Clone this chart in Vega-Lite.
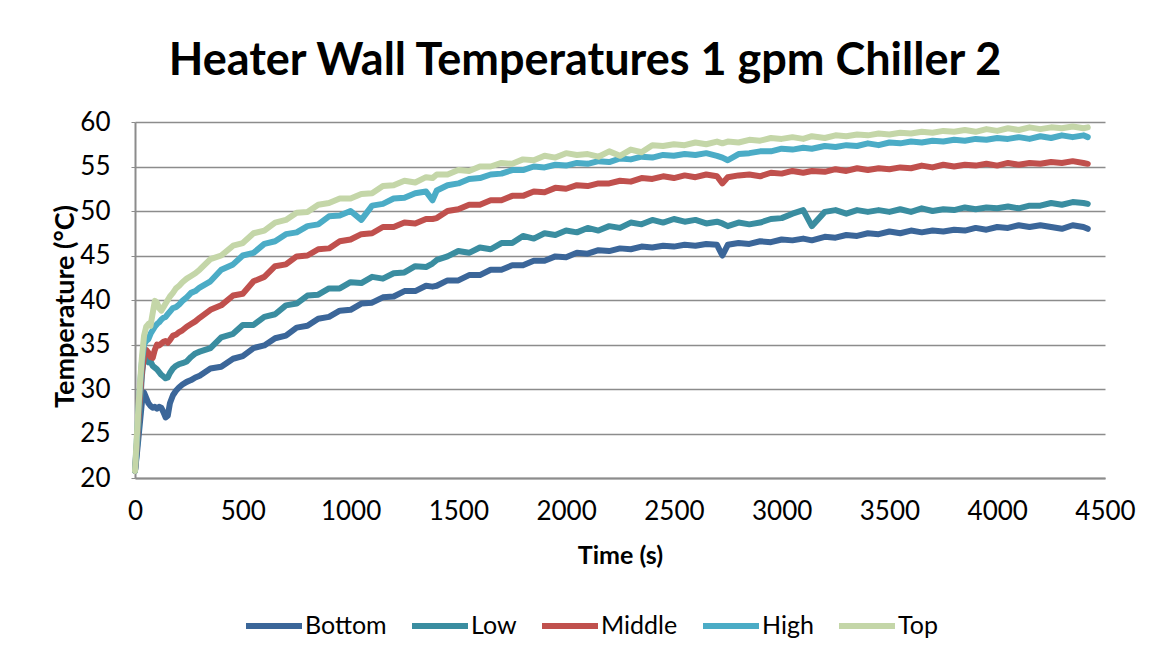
{
  "$schema": "https://vega.github.io/schema/vega-lite/v6.json",
  "width": 970,
  "height": 356,
  "autosize": {"type": "none"},
  "padding": {"left": 135, "top": 122, "right": 45, "bottom": 179},
  "background": "white",
  "title": {"text": "Heater Wall Temperatures 1 gpm Chiller 2", "font": "Lato", "fontSize": 45, "fontWeight": "bold", "color": "black", "anchor": "middle", "dx": -35, "offset": 25},
  "data": {"values": [
    {"t":0,"Bottom":20.8,"Low":20.8,"Middle":20.8,"High":20.8,"Top":20.8},
    {"t":8,"Bottom":22.5,"Low":23.0,"Middle":23.5,"High":24.0,"Top":24.5},
    {"t":16,"Bottom":24.5,"Low":25.5,"Middle":26.5,"High":27.5,"Top":28.0},
    {"t":24,"Bottom":26.5,"Low":28.5,"Middle":29.5,"High":30.5,"Top":31.0},
    {"t":32,"Bottom":28.5,"Low":31.5,"Middle":32.0,"High":33.0,"Top":33.5},
    {"t":42,"Bottom":29.6,"Low":33.8,"Middle":33.6,"High":35.0,"Top":36.0},
    {"t":52,"Bottom":29.0,"Low":33.4,"Middle":34.4,"High":35.4,"Top":37.0},
    {"t":62,"Bottom":28.4,"Low":33.0,"Middle":34.1,"High":35.6,"Top":37.3},
    {"t":72,"Bottom":28.1,"Low":33.1,"Middle":33.6,"High":36.2,"Top":37.1},
    {"t":82,"Bottom":27.9,"Low":32.6,"Middle":33.5,"High":36.6,"Top":38.5},
    {"t":92,"Bottom":28.0,"Low":32.4,"Middle":34.4,"High":37.0,"Top":39.9},
    {"t":102,"Bottom":27.8,"Low":32.2,"Middle":35.0,"High":37.3,"Top":39.7},
    {"t":112,"Bottom":28.0,"Low":31.9,"Middle":34.9,"High":37.5,"Top":39.1},
    {"t":122,"Bottom":27.9,"Low":31.6,"Middle":35.1,"High":37.8,"Top":38.8},
    {"t":132,"Bottom":27.4,"Low":31.4,"Middle":35.3,"High":38.0,"Top":39.2},
    {"t":142,"Bottom":26.8,"Low":31.2,"Middle":35.4,"High":38.1,"Top":39.6},
    {"t":152,"Bottom":27.0,"Low":31.3,"Middle":35.2,"High":38.4,"Top":40.0},
    {"t":162,"Bottom":28.4,"Low":31.8,"Middle":35.5,"High":38.7,"Top":40.4},
    {"t":176,"Bottom":29.3,"Low":32.3,"Middle":36.0,"High":39.1,"Top":40.8},
    {"t":190,"Bottom":29.8,"Low":32.6,"Middle":36.1,"High":39.2,"Top":41.3},
    {"t":205,"Bottom":30.2,"Low":32.8,"Middle":36.4,"High":39.5,"Top":41.6},
    {"t":220,"Bottom":30.5,"Low":32.9,"Middle":36.6,"High":39.9,"Top":42.0},
    {"t":240,"Bottom":30.8,"Low":33.1,"Middle":37.0,"High":40.3,"Top":42.4},
    {"t":260,"Bottom":31.0,"Low":33.6,"Middle":37.3,"High":40.8,"Top":42.7},
    {"t":280,"Bottom":31.3,"Low":34.0,"Middle":37.6,"High":41.0,"Top":43.0},
    {"t":300,"Bottom":31.5,"Low":34.2,"Middle":38.0,"High":41.4,"Top":43.4},
    {"t":350,"Bottom":32.3,"Low":34.6,"Middle":38.9,"High":42.1,"Top":44.6},
    {"t":400,"Bottom":32.5,"Low":35.8,"Middle":39.4,"High":43.4,"Top":45.0},
    {"t":455,"Bottom":33.4,"Low":36.2,"Middle":40.5,"High":44.0,"Top":46.1},
    {"t":500,"Bottom":33.7,"Low":37.2,"Middle":40.7,"High":45.0,"Top":46.4},
    {"t":550,"Bottom":34.6,"Low":37.2,"Middle":42.1,"High":45.3,"Top":47.5},
    {"t":600,"Bottom":34.9,"Low":38.1,"Middle":42.6,"High":46.3,"Top":47.8},
    {"t":650,"Bottom":35.7,"Low":38.4,"Middle":43.8,"High":46.6,"Top":48.7},
    {"t":700,"Bottom":36.0,"Low":39.4,"Middle":44.0,"High":47.4,"Top":49.0},
    {"t":750,"Bottom":36.9,"Low":39.6,"Middle":44.9,"High":47.6,"Top":49.8},
    {"t":800,"Bottom":37.1,"Low":40.5,"Middle":45.0,"High":48.3,"Top":49.9},
    {"t":850,"Bottom":37.9,"Low":40.6,"Middle":45.7,"High":48.5,"Top":50.7},
    {"t":900,"Bottom":38.1,"Low":41.3,"Middle":45.8,"High":49.4,"Top":50.9},
    {"t":950,"Bottom":38.8,"Low":41.3,"Middle":46.6,"High":49.5,"Top":51.4},
    {"t":1000,"Bottom":38.9,"Low":42.0,"Middle":46.8,"High":50.0,"Top":51.4},
    {"t":1050,"Bottom":39.6,"Low":41.9,"Middle":47.4,"High":49.0,"Top":51.9},
    {"t":1100,"Bottom":39.7,"Low":42.6,"Middle":47.5,"High":50.6,"Top":52.0},
    {"t":1150,"Bottom":40.3,"Low":42.4,"Middle":48.2,"High":50.8,"Top":52.8},
    {"t":1200,"Bottom":40.4,"Low":43.0,"Middle":48.2,"High":51.4,"Top":52.9},
    {"t":1250,"Bottom":41.0,"Low":43.1,"Middle":48.7,"High":51.5,"Top":53.4},
    {"t":1300,"Bottom":41.0,"Low":43.8,"Middle":48.6,"High":52.0,"Top":53.2},
    {"t":1350,"Bottom":41.6,"Low":43.7,"Middle":49.1,"High":52.2,"Top":53.8},
    {"t":1380,"Bottom":41.5,"Low":44.1,"Middle":49.1,"High":51.2,"Top":53.7},
    {"t":1400,"Bottom":41.6,"Low":44.5,"Middle":49.2,"High":52.3,"Top":54.1},
    {"t":1450,"Bottom":42.2,"Low":44.9,"Middle":50.0,"High":52.9,"Top":54.1},
    {"t":1500,"Bottom":42.2,"Low":45.5,"Middle":50.2,"High":53.1,"Top":54.6},
    {"t":1550,"Bottom":42.8,"Low":45.3,"Middle":50.7,"High":53.6,"Top":54.5},
    {"t":1600,"Bottom":42.8,"Low":45.9,"Middle":50.7,"High":53.7,"Top":55.0},
    {"t":1650,"Bottom":43.4,"Low":45.7,"Middle":51.2,"High":54.1,"Top":55.0},
    {"t":1700,"Bottom":43.4,"Low":46.4,"Middle":51.2,"High":54.2,"Top":55.4},
    {"t":1750,"Bottom":43.9,"Low":46.4,"Middle":51.7,"High":54.6,"Top":55.3},
    {"t":1800,"Bottom":43.9,"Low":47.2,"Middle":51.7,"High":54.6,"Top":55.8},
    {"t":1850,"Bottom":44.4,"Low":46.9,"Middle":52.2,"High":55.0,"Top":55.7},
    {"t":1900,"Bottom":44.4,"Low":47.5,"Middle":52.1,"High":54.9,"Top":56.2},
    {"t":1950,"Bottom":44.9,"Low":47.3,"Middle":52.6,"High":55.2,"Top":56.0},
    {"t":2000,"Bottom":44.8,"Low":47.8,"Middle":52.5,"High":55.1,"Top":56.5},
    {"t":2050,"Bottom":45.3,"Low":47.6,"Middle":52.9,"High":55.4,"Top":56.3},
    {"t":2100,"Bottom":45.2,"Low":48.1,"Middle":52.8,"High":55.3,"Top":56.4},
    {"t":2150,"Bottom":45.6,"Low":47.8,"Middle":53.1,"High":55.6,"Top":56.1},
    {"t":2200,"Bottom":45.5,"Low":48.3,"Middle":53.1,"High":55.5,"Top":56.7},
    {"t":2250,"Bottom":45.8,"Low":48.1,"Middle":53.4,"High":55.9,"Top":56.2},
    {"t":2300,"Bottom":45.7,"Low":48.7,"Middle":53.3,"High":55.8,"Top":56.9},
    {"t":2350,"Bottom":46.0,"Low":48.5,"Middle":53.7,"High":56.1,"Top":56.6},
    {"t":2400,"Bottom":45.9,"Low":49.0,"Middle":53.6,"High":56.0,"Top":57.4},
    {"t":2450,"Bottom":46.1,"Low":48.7,"Middle":53.9,"High":56.3,"Top":57.3},
    {"t":2500,"Bottom":46.0,"Low":49.1,"Middle":53.7,"High":56.2,"Top":57.5},
    {"t":2550,"Bottom":46.2,"Low":48.8,"Middle":54.0,"High":56.4,"Top":57.4},
    {"t":2600,"Bottom":46.1,"Low":49.0,"Middle":53.8,"High":56.3,"Top":57.7},
    {"t":2650,"Bottom":46.3,"Low":48.6,"Middle":54.1,"High":56.5,"Top":57.5},
    {"t":2700,"Bottom":46.2,"Low":48.8,"Middle":53.9,"High":56.2,"Top":57.8},
    {"t":2725,"Bottom":45.0,"Low":48.6,"Middle":53.1,"High":56.0,"Top":57.6},
    {"t":2750,"Bottom":46.2,"Low":48.3,"Middle":53.8,"High":55.7,"Top":57.8},
    {"t":2800,"Bottom":46.4,"Low":48.7,"Middle":54.0,"High":56.4,"Top":57.7},
    {"t":2850,"Bottom":46.3,"Low":48.5,"Middle":54.1,"High":56.5,"Top":58.0},
    {"t":2900,"Bottom":46.6,"Low":48.7,"Middle":53.9,"High":56.7,"Top":57.9},
    {"t":2950,"Bottom":46.5,"Low":49.1,"Middle":54.3,"High":56.7,"Top":58.2},
    {"t":3000,"Bottom":46.8,"Low":49.2,"Middle":54.2,"High":57.0,"Top":58.1},
    {"t":3050,"Bottom":46.7,"Low":49.7,"Middle":54.5,"High":56.9,"Top":58.3},
    {"t":3100,"Bottom":46.9,"Low":50.1,"Middle":54.3,"High":57.1,"Top":58.1},
    {"t":3140,"Bottom":46.7,"Low":48.3,"Middle":54.5,"High":57.0,"Top":58.4},
    {"t":3200,"Bottom":47.1,"Low":49.9,"Middle":54.4,"High":57.3,"Top":58.2},
    {"t":3250,"Bottom":47.0,"Low":50.1,"Middle":54.7,"High":57.2,"Top":58.5},
    {"t":3300,"Bottom":47.3,"Low":49.7,"Middle":54.5,"High":57.4,"Top":58.4},
    {"t":3350,"Bottom":47.2,"Low":50.1,"Middle":54.8,"High":57.3,"Top":58.6},
    {"t":3400,"Bottom":47.5,"Low":49.9,"Middle":54.6,"High":57.6,"Top":58.5},
    {"t":3450,"Bottom":47.4,"Low":50.1,"Middle":54.8,"High":57.4,"Top":58.7},
    {"t":3500,"Bottom":47.7,"Low":49.9,"Middle":54.7,"High":57.7,"Top":58.6},
    {"t":3550,"Bottom":47.5,"Low":50.2,"Middle":54.9,"High":57.6,"Top":58.8},
    {"t":3600,"Bottom":47.8,"Low":49.9,"Middle":54.8,"High":57.8,"Top":58.7},
    {"t":3650,"Bottom":47.6,"Low":50.3,"Middle":55.1,"High":57.7,"Top":58.9},
    {"t":3700,"Bottom":47.8,"Low":50.0,"Middle":54.9,"High":57.9,"Top":58.8},
    {"t":3750,"Bottom":47.7,"Low":50.2,"Middle":55.2,"High":57.8,"Top":59.0},
    {"t":3800,"Bottom":47.9,"Low":50.1,"Middle":55.0,"High":58.0,"Top":58.9},
    {"t":3850,"Bottom":47.8,"Low":50.4,"Middle":55.2,"High":57.9,"Top":59.1},
    {"t":3900,"Bottom":48.1,"Low":50.2,"Middle":55.1,"High":58.1,"Top":58.9},
    {"t":3950,"Bottom":47.9,"Low":50.4,"Middle":55.3,"High":58.0,"Top":59.2},
    {"t":4000,"Bottom":48.2,"Low":50.3,"Middle":55.1,"High":58.2,"Top":59.0},
    {"t":4050,"Bottom":48.1,"Low":50.5,"Middle":55.4,"High":58.1,"Top":59.3},
    {"t":4100,"Bottom":48.4,"Low":50.3,"Middle":55.2,"High":58.3,"Top":59.1},
    {"t":4150,"Bottom":48.2,"Low":50.6,"Middle":55.4,"High":58.1,"Top":59.4},
    {"t":4200,"Bottom":48.4,"Low":50.6,"Middle":55.3,"High":58.4,"Top":59.2},
    {"t":4250,"Bottom":48.2,"Low":50.9,"Middle":55.5,"High":58.2,"Top":59.4},
    {"t":4300,"Bottom":48.0,"Low":50.7,"Middle":55.4,"High":58.5,"Top":59.3},
    {"t":4350,"Bottom":48.4,"Low":51.0,"Middle":55.6,"High":58.3,"Top":59.5},
    {"t":4400,"Bottom":48.2,"Low":50.9,"Middle":55.4,"High":58.5,"Top":59.3},
    {"t":4420,"Bottom":48.0,"Low":50.8,"Middle":55.3,"High":58.3,"Top":59.4}
  ]},
  "transform": [{"fold": ["Bottom", "Low", "Middle", "High", "Top"], "as": ["series", "temp"]}],
  "mark": {"type": "line", "strokeWidth": 6, "strokeCap": "round", "strokeJoin": "round"},
  "encoding": {
    "x": {
      "field": "t", "type": "quantitative",
      "scale": {"domain": [0, 4500], "nice": false, "zero": false},
      "axis": {
        "title": "Time (s)", "values": [0, 500, 1000, 1500, 2000, 2500, 3000, 3500, 4000, 4500],
        "format": "d", "labelFlush": false, "labelOverlap": false,
        "grid": false, "ticks": false, "labelPadding": 20,
        "labelFont": "Lato", "labelFontSize": 26, "labelColor": "black",
        "titleFont": "Lato", "titleFontSize": 25, "titleFontWeight": "bold", "titleColor": "black", "titlePadding": 19,
        "domainColor": "#8c8c8c", "domainWidth": 2
      }
    },
    "y": {
      "field": "temp", "type": "quantitative",
      "scale": {"domain": [20, 60], "nice": false, "zero": false},
      "axis": {
        "title": "Temperature (°C)", "values": [20, 25, 30, 35, 40, 45, 50, 55, 60],
        "labelFlush": false, "labelOverlap": false,
        "grid": true, "gridColor": "#8c8c8c", "gridWidth": 1.5,
        "tickSize": 4, "tickColor": "#8c8c8c", "labelPadding": 21,
        "labelFont": "Lato", "labelFontSize": 26, "labelColor": "black",
        "titleFont": "Lato", "titleFontSize": 27, "titleFontWeight": "bold", "titleColor": "black", "titlePadding": 0, "titleY": 184,
        "domainColor": "#8c8c8c", "domainWidth": 2
      }
    },
    "color": {
      "field": "series", "type": "nominal",
      "scale": {"domain": ["Bottom", "Low", "Middle", "High", "Top"], "range": ["#3B6699", "#3A8DA0", "#C0504D", "#4BACC6", "#C4D6A8"]},
      "legend": {
        "title": null, "orient": "none", "direction": "horizontal", "legendX": 108, "legendY": 473,
        "symbolType": "stroke", "symbolSize": 3136, "symbolStrokeWidth": 6,
        "labelFont": "Lato", "labelFontSize": 25, "labelColor": "black", "labelOffset": 0, "columnPadding": 13
      }
    }
  },
  "config": {"view": {"stroke": null}}
}
